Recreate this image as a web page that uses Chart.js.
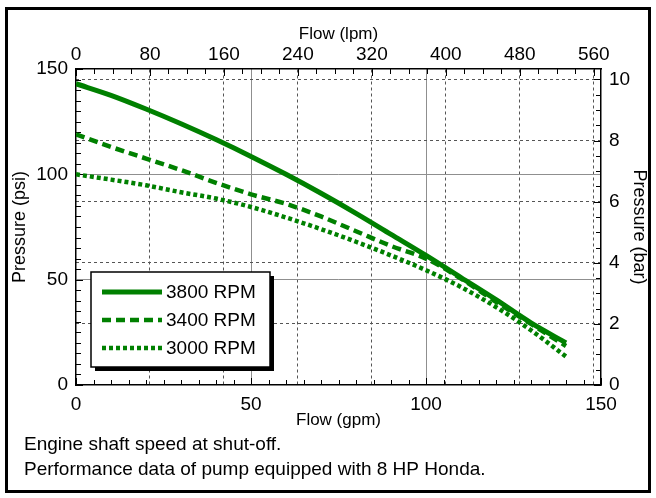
<!DOCTYPE html>
<html>
<head>
<meta charset="utf-8">
<script src="https://cdn.jsdelivr.net/npm/chart.js@4.4.1/dist/chart.umd.min.js"></script>
<style>
  html, body { margin: 0; padding: 0; background: #fff; }
  #wrap { position: relative; width: 656px; height: 498px; }
</style>
</head>
<body>
<div id="wrap"><canvas id="pumpChart" width="656" height="498"></canvas></div>
<script>
  // Values
  const flowGpm = [0, 10, 20, 30, 40, 50, 60, 70, 80, 90, 100, 110, 120, 130, 140];
  const rpm3800 = [143, 137.5, 131, 124, 116.5, 108.5, 100, 91, 81.5, 71.5, 61.5, 51, 40.5, 29.5, 20];
  const rpm3400 = [119, 113, 107.5, 102, 96, 90.5, 86, 80, 73, 66, 60, 50.5, 39.5, 29, 18.5];
  const rpm3000 = [100, 97.5, 94.8, 91.5, 88.5, 84.5, 79.5, 74, 68, 61.5, 54.5, 46.5, 37, 26, 13.5];
  const seriesLabels = ['3800 RPM', '3400 RPM', '3000 RPM'];

  // Tick labels
  const gpmTicks = [0, 50, 100, 150];
  const lpmTicks = [0, 80, 160, 240, 320, 400, 480, 560];
  const psiTicks = [0, 50, 100, 150];
  const barTicks = [0, 2, 4, 6, 8, 10];
  const notes = ['Engine shaft speed at shut-off.', 'Performance data of pump equipped with 8 HP Honda.'];

  const LPM_PER_GPM = 3.78541;
  const PSI_PER_BAR = 14.5038;
  const green = '#008000';
  const font = 'Liberation Sans, Arial, sans-serif';

  const toPoints = arr => arr.map((v, i) => ({ x: flowGpm[i], y: v }));

  // minor tick every `step` up to the axis max, majors are the labelled ones
  const minorTicks = (step, max) => scale => {
    const list = [];
    for (let i = 0; i * step <= max + 1e-9; i++) list.push({ value: +(i * step).toFixed(4) });
    scale.ticks = list;
  };

  const solidGrid = (list) => ctx => {
    const v = ctx.tick ? ctx.tick.value : null;
    return (v !== null && list.includes(v) && v !== list[0] && v !== list[list.length - 1]) ? '#8f8f8f' : 'rgba(0,0,0,0)';
  };
  const dashGrid = (list) => ctx => {
    const v = ctx.tick ? ctx.tick.value : null;
    return (v !== null && v > 0 && list.includes(v)) ? '#555' : 'rgba(0,0,0,0)';
  };

  // inward tick marks on all four sides
  const innerTicks = {
    id: 'innerTicks',
    beforeDatasetsDraw(chart) {
      const { ctx, chartArea: a } = chart;
      const sides = [
        { id: 'x', major: gpmTicks },
        { id: 'x2', major: lpmTicks },
        { id: 'y', major: psiTicks },
        { id: 'y2', major: barTicks }
      ];
      ctx.save();
      ctx.strokeStyle = '#000';
      ctx.lineWidth = 1;
      sides.forEach(s => {
        const scale = chart.scales[s.id];
        scale.ticks.forEach(t => {
          const len = s.major.includes(t.value) ? 7 : 5;
          const p = Math.round(scale.getPixelForValue(t.value)) + 0.5;
          ctx.beginPath();
          if (s.id === 'x') { ctx.moveTo(p, a.bottom); ctx.lineTo(p, a.bottom - len); }
          if (s.id === 'x2') { ctx.moveTo(p, a.top); ctx.lineTo(p, a.top + len); }
          if (s.id === 'y') { ctx.moveTo(a.left, p); ctx.lineTo(a.left + len, p); }
          if (s.id === 'y2') { ctx.moveTo(a.right, p); ctx.lineTo(a.right - len, p); }
          ctx.stroke();
        });
      });
      ctx.restore();
    }
  };

  // boxed legend with shadow, frame and footnotes
  const extras = {
    id: 'extras',
    afterDraw(chart) {
      const ctx = chart.ctx;
      ctx.save();
      const bx = 91, by = 272, bw = 179, bh = 95;
      ctx.fillStyle = '#000';
      ctx.fillRect(bx + 4, by + 4, bw, bh);
      ctx.fillStyle = '#fff';
      ctx.fillRect(bx, by, bw, bh);
      ctx.strokeStyle = '#000';
      ctx.lineWidth = 1.5;
      ctx.strokeRect(bx, by, bw, bh);
      ctx.font = '19px ' + font;
      ctx.textBaseline = 'middle';
      chart.data.datasets.forEach((ds, i) => {
        const y = by + 20 + i * 28;
        ctx.strokeStyle = ds.borderColor;
        ctx.lineWidth = ds.borderWidth;
        ctx.setLineDash(ds.borderDash || []);
        ctx.beginPath();
        ctx.moveTo(bx + 11, y);
        ctx.lineTo(bx + 71, y);
        ctx.stroke();
        ctx.setLineDash([]);
        ctx.fillStyle = '#000';
        ctx.fillText(ds.label, bx + 75, y + 1);
      });
      ctx.strokeStyle = '#000';
      ctx.lineWidth = 3;
      ctx.strokeRect(6.5, 8.5, 643, 483);
      ctx.fillStyle = '#000';
      ctx.font = '19px ' + font;
      notes.forEach((n, i) => ctx.fillText(n, 24, 445 + i * 25));
      ctx.restore();
    }
  };

  const tickFont = { family: font, size: 19 };
  const titleFont = { family: font, size: 17 };
  const sideTitleFont = { family: font, size: 18 };

  new Chart(document.getElementById('pumpChart'), {
    type: 'line',
    data: {
      datasets: [
        { label: seriesLabels[0], data: toPoints(rpm3800), borderColor: green, borderWidth: 5, borderDash: [] },
        { label: seriesLabels[1], data: toPoints(rpm3400), borderColor: green, borderWidth: 4.5, borderDash: [9, 5] },
        { label: seriesLabels[2], data: toPoints(rpm3000), borderColor: green, borderWidth: 4.5, borderDash: [4, 3] }
      ].map(d => Object.assign(d, { xAxisID: 'x', yAxisID: 'y', pointRadius: 0, fill: false, cubicInterpolationMode: 'monotone', borderCapStyle: 'butt' }))
    },
    options: {
      responsive: false,
      animation: false,
      layout: { padding: 0 },
      plugins: { legend: { display: false }, tooltip: { enabled: false } },
      scales: {
        x: {
          type: 'linear', position: 'bottom', min: 0, max: 150,
          afterBuildTicks: minorTicks(5, 150),
          ticks: { autoSkip: false, maxRotation: 0, padding: 8, color: '#000', font: tickFont,
            callback: v => gpmTicks.includes(v) ? v : '' },
          grid: { drawTicks: false, lineWidth: 1, color: solidGrid(gpmTicks) },
          border: { display: true, color: '#000', width: 1.5 },
          title: { display: true, text: 'Flow (gpm)', color: '#000', font: titleFont, padding: { top: 0, bottom: 67 } },
          afterFit: s => { s.height = 113; }
        },
        x2: {
          type: 'linear', position: 'top', min: 0, max: 150 * LPM_PER_GPM,
          afterBuildTicks: minorTicks(20, 150 * LPM_PER_GPM),
          ticks: { autoSkip: false, maxRotation: 0, padding: 3, color: '#000', font: tickFont,
            callback: v => lpmTicks.includes(v) ? v : '' },
          grid: { drawTicks: false, lineWidth: 1, color: dashGrid(lpmTicks) },
          border: { display: true, color: '#000', width: 1.5, dash: [3, 3] },
          title: { display: true, text: 'Flow (lpm)', color: '#000', font: titleFont, padding: { top: 24, bottom: 0 } },
          afterFit: s => { s.height = 69; }
        },
        y: {
          type: 'linear', position: 'left', min: 0, max: 150,
          afterBuildTicks: minorTicks(5, 150),
          ticks: { autoSkip: false, padding: 8, color: '#000', font: tickFont,
            callback: v => psiTicks.includes(v) ? v : '' },
          grid: { drawTicks: false, lineWidth: 1, color: solidGrid(psiTicks) },
          border: { display: true, color: '#000', width: 1.5 },
          title: { display: true, text: 'Pressure (psi)', color: '#000', font: sideTitleFont, padding: { top: 9, bottom: 0 } },
          afterFit: s => { s.width = 76; }
        },
        y2: {
          type: 'linear', position: 'right', min: 0, max: 150 / PSI_PER_BAR,
          afterBuildTicks: minorTicks(0.5, 150 / PSI_PER_BAR),
          ticks: { autoSkip: false, padding: 8, color: '#000', font: tickFont,
            callback: v => barTicks.includes(v) ? v : '' },
          grid: { drawTicks: false, lineWidth: 1, color: dashGrid(barTicks) },
          border: { display: true, color: '#000', width: 1.5, dash: [3, 3] },
          title: { display: true, text: 'Pressure (bar)', color: '#000', font: sideTitleFont, padding: { top: 6, bottom: 0 } },
          afterFit: s => { s.width = 55; }
        }
      }
    },
    plugins: [innerTicks, extras]
  });
</script>
</body>
</html>
